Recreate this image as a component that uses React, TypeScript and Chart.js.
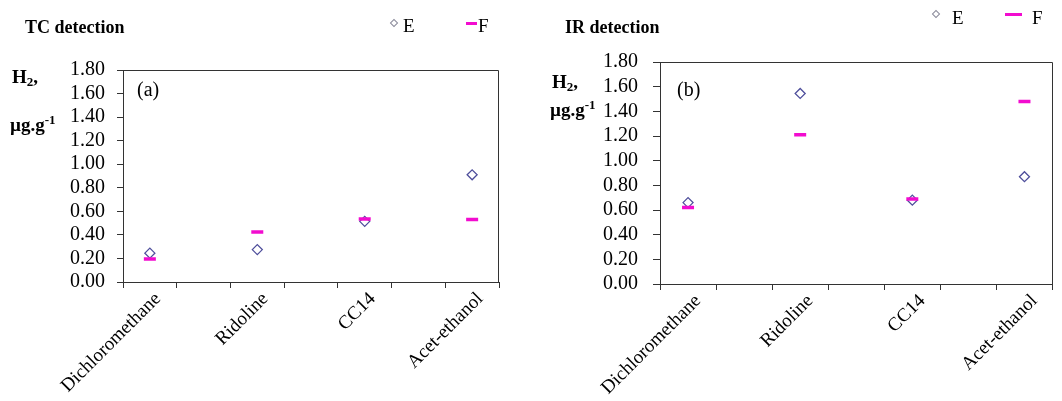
import React, { useEffect, useRef } from 'react';
import { Chart, registerables } from 'chart.js';

Chart.register(...registerables);

// ---- data ----
const categories = ['Dichloromethane', 'Ridoline', 'CC14', 'Acet-ethanol'];
const tcE = [0.245, 0.275, 0.515, 0.91];
const tcF = [0.195, 0.425, 0.535, 0.53];
const irE = [0.66, 1.545, 0.68, 0.87];
const irF = [0.62, 1.21, 0.69, 1.48];
const yMin = 0;
const yMax = 1.8;
const yStep = 0.2;

const SERIF = "'Liberation Serif', 'Times New Roman', serif";
const E_COLOR = '#4f4f9c';
const F_COLOR = '#f20ccf';
const AXIS_COLOR = '#333333';

// Excel-like axis: one empty slot between categories
const axisLabels: string[] = categories.flatMap((c, i) => (i ? ['', c] : [c]));
const spread = (vals: number[]) => vals.flatMap((v, i) => (i ? [null, v] : [v]));

const framePlugin = {
  id: 'frame',
  afterDraw(chart: any) {
    const { ctx, chartArea } = chart;
    ctx.save();
    ctx.strokeStyle = AXIS_COLOR;
    ctx.lineWidth = 1;
    ctx.beginPath();
    ctx.moveTo(Math.round(chartArea.left) + 0.5, Math.round(chartArea.top) + 0.5);
    ctx.lineTo(Math.round(chartArea.right) - 0.5, Math.round(chartArea.top) + 0.5);
    ctx.lineTo(Math.round(chartArea.right) - 0.5, Math.round(chartArea.bottom) + 0.5);
    ctx.stroke();
    ctx.restore();
  },
};

function makeConfig(E: number[], F: number[], o: any): any {
  return {
    type: 'line',
    data: {
      labels: axisLabels,
      datasets: [
        {
          label: 'E',
          data: spread(E),
          showLine: false,
          pointStyle: 'rectRot',
          pointRadius: 5,
          pointBorderWidth: 1.3,
          pointBorderColor: E_COLOR,
          pointBackgroundColor: 'rgba(255,255,255,0)',
          order: 2,
        },
        {
          label: 'F',
          data: spread(F),
          showLine: false,
          pointStyle: 'line',
          pointRadius: 6,
          pointBorderWidth: 3.5,
          pointBorderColor: F_COLOR,
          pointBackgroundColor: F_COLOR,
          order: 1,
        },
      ],
    },
    options: {
      animation: false,
      responsive: false,
      maintainAspectRatio: false,
      events: [],
      layout: { padding: { left: 0, top: o.top, right: o.right, bottom: 0 } },
      plugins: { legend: { display: false }, tooltip: { enabled: false }, title: { display: false } },
      scales: {
        x: {
          type: 'category',
          offset: true,
          grid: { offset: true, drawOnChartArea: false, drawTicks: true, tickLength: 6, color: AXIS_COLOR },
          border: { color: AXIS_COLOR, width: 1 },
          ticks: {
            autoSkip: false,
            maxRotation: 45,
            minRotation: 45,
            padding: 0,
            labelOffset: o.lo,
            color: '#000',
            font: { family: SERIF, size: 19 },
          },
          afterFit: (s: any) => {
            s.height = o.xh;
          },
        },
        y: {
          min: yMin,
          max: yMax,
          grid: { drawOnChartArea: false, drawTicks: true, tickLength: o.tl, color: AXIS_COLOR },
          border: { color: AXIS_COLOR, width: 1 },
          ticks: {
            stepSize: yStep,
            autoSkip: false,
            padding: o.tp,
            color: '#000',
            font: { family: SERIF, size: 20 },
            callback: (v: any) => Number(v).toFixed(2),
          },
          afterFit: (s: any) => {
            s.width = o.yw;
          },
        },
      },
    },
    plugins: [framePlugin],
  };
}

function ChartCanvas({ E, F, o, width }: any) {
  const ref = useRef<HTMLCanvasElement>(null);
  useEffect(() => {
    const chart = new Chart(ref.current as HTMLCanvasElement, makeConfig(E, F, o));
    return () => chart.destroy();
  }, []);
  return <canvas ref={ref} width={width} height={401} style={{ display: 'block', width, height: 401 }} />;
}

const abs = (left: number, top: number, extra: any = {}): any => ({
  position: 'absolute',
  left,
  top,
  lineHeight: 1,
  whiteSpace: 'nowrap',
  fontFamily: SERIF,
  color: '#000',
  ...extra,
});

function Legend({ x, y, eX, dashX, dashW, fX, ty }: any) {
  return (
    <>
      <span
        style={{
          position: 'absolute',
          left: x,
          top: y - 3,
          width: 6,
          height: 6,
          border: '1px solid #8a8a9a',
          transform: 'rotate(45deg)',
          boxSizing: 'border-box',
        }}
      />
      <span style={abs(eX, ty - 10, { fontSize: 19 })}>E</span>
      <span style={{ position: 'absolute', left: dashX, top: y - 1.5, width: dashW, height: 3, background: F_COLOR }} />
      <span style={abs(fX, ty - 10, { fontSize: 19 })}>F</span>
    </>
  );
}

function YTitle({ x, yH, yU }: any) {
  return (
    <>
      <span style={abs(x, yH, { fontSize: 19, fontWeight: 'bold' })}>
        H<sub style={{ fontSize: 13, verticalAlign: -3 }}>2</sub>,
      </span>
      <span style={abs(x - 2, yU, { fontSize: 19, fontWeight: 'bold' })}>
        µg.g<sup style={{ fontSize: 13, verticalAlign: 7 }}>-1</sup>
      </span>
    </>
  );
}

export default function App() {
  useEffect(() => {
    document.body.style.margin = '0';
  }, []);
  return (
    <div style={{ position: 'relative', width: 1062, height: 401, background: '#fff', overflow: 'hidden' }}>
      <div style={{ position: 'absolute', left: 0, top: 0 }}>
        <ChartCanvas E={tcE} F={tcF} width={530} o={{ top: 70, right: 31, xh: 119, yw: 123, tl: 6, tp: 12, lo: 8 }} />
      </div>
      <div style={{ position: 'absolute', left: 530, top: 0 }}>
        <ChartCanvas E={irE} F={irF} width={532} o={{ top: 62, right: 1, xh: 117, yw: 130, tl: 7, tp: 15, lo: 10 }} />
      </div>

      <span style={abs(25, 18, { fontSize: 18, fontWeight: 'bold' })}>TC detection</span>
      <span style={abs(565, 18, { fontSize: 18, fontWeight: 'bold' })}>IR detection</span>

      <span style={abs(137, 79, { fontSize: 20 })}>(a)</span>
      <span style={abs(677, 79, { fontSize: 20 })}>(b)</span>

      <YTitle x={12} yH={67} yU={113} />
      <YTitle x={552} yH={72} yU={98} />

      <Legend x={391} y={23} eX={403} ty={26} dashX={466} dashW={11} fX={478} />
      <Legend x={933} y={14} eX={952} ty={18} dashX={1005} dashW={17} fX={1032} />
    </div>
  );
}
